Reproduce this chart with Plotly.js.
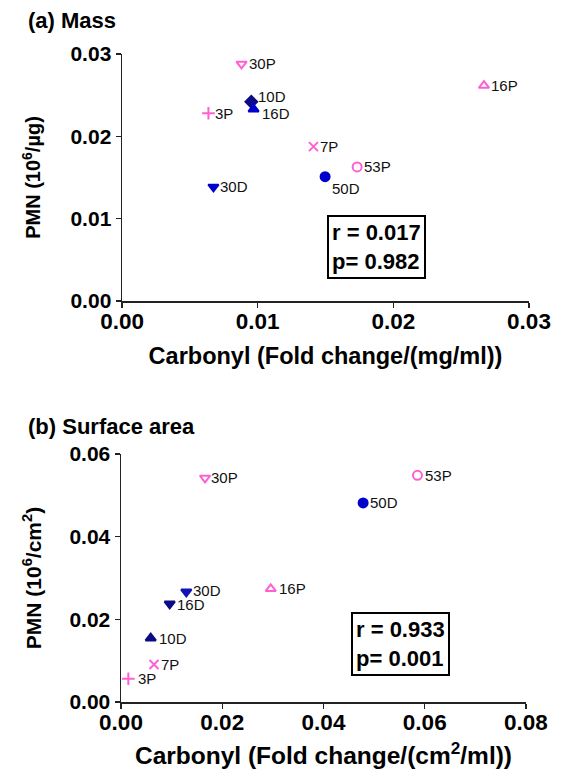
<!DOCTYPE html>
<html>
<head>
<meta charset="utf-8">
<script src="https://cdn.plot.ly/plotly-3.0.1.min.js"></script>
<style>
html,body{margin:0;padding:0;background:#fff;}
#chart{width:563px;height:776px;}
</style>
</head>
<body>
<div id="chart"></div>
<script>
// ---- data ----
const sampleLabels = ['3P', '7P', '16P', '30P', '53P', '10D', '16D', '30D', '50D'];
// (a) Mass
const massCarbonyl = [0.00637, 0.01411, 0.02668, 0.00881, 0.01733, 0.00953, 0.00970, 0.00674, 0.01497];
const massPMN      = [0.0228, 0.01875, 0.02616, 0.0288, 0.01628, 0.0242, 0.0233, 0.01385, 0.0151];
// (b) Surface area
const areaCarbonyl = [0.00145, 0.00652, 0.02958, 0.0166, 0.05856, 0.00587, 0.00962, 0.0129, 0.04783];
const areaPMN      = [0.00561, 0.00907, 0.02738, 0.0542, 0.05485, 0.01543, 0.02375, 0.02665, 0.04817];
const massTicks = [0, 0.01, 0.02, 0.03];
const areaXTicks = [0, 0.02, 0.04, 0.06, 0.08];
const areaYTicks = [0, 0.02, 0.04, 0.06];
const massStats = ['r = 0.017', 'p= 0.982'];
const areaStats = ['r = 0.933', 'p= 0.001'];

// ---- styles: [symbol, colour, label dx(px), label dy(px, down positive)] ----
const PINK = '#ff5fd4', BLUE = '#0000cc', NAVY = '#0b0b85';
const massStyle = {
  '3P': ['cross-thin', PINK, 5, 0],
  '7P': ['x-thin', PINK, 5, 0],
  '16P': ['triangle-up-open', PINK, 5, 0],
  '30P': ['triangle-down-open', PINK, 5, 0],
  '53P': ['circle-open', PINK, 5, 0],
  '10D': ['diamond', NAVY, 5, -5],
  '16D': ['triangle-up', BLUE, 6, 4],
  '30D': ['triangle-down', BLUE, 5, 0],
  '50D': ['circle', BLUE, 5, 12]
};
const areaStyle = {
  '3P': ['cross-thin', PINK, 8, 0],
  '7P': ['x-thin', PINK, 5, 0],
  '16P': ['triangle-up-open', PINK, 6, 0],
  '30P': ['triangle-down-open', PINK, 4, 0],
  '53P': ['circle-open', PINK, 6, 0],
  '10D': ['triangle-up', NAVY, 6, 0],
  '16D': ['triangle-down', NAVY, 5, 1],
  '30D': ['triangle-down', '#1414b4', 5, -1],
  '50D': ['circle', BLUE, 5, 0]
};

const FONT = 'Liberation Sans, Arial, sans-serif';

function makeTrace(xs, ys, style, xa, ya) {
  const sym = sampleLabels.map(l => style[l][0]);
  const col = sampleLabels.map(l => style[l][1]);
  return {
    type: 'scatter', mode: 'markers',
    x: xs, y: ys, text: sampleLabels,
    xaxis: xa, yaxis: ya,
    marker: {symbol: sym, color: col, size: 9, line: {color: col, width: 2}},
    cliponaxis: false, hoverinfo: 'skip', showlegend: false
  };
}

function makeLabels(xs, ys, style, xa, ya) {
  return sampleLabels.map((l, i) => ({
    text: l, xref: xa, yref: ya, x: xs[i], y: ys[i],
    xanchor: 'left', yanchor: 'middle', xshift: style[l][2], yshift: -style[l][3],
    showarrow: false, font: {family: FONT, size: 15, color: '#111'}
  }));
}

function axisBase(tsize) {
  return {
    showgrid: false, zeroline: false, showline: true, linecolor: '#222', linewidth: 1.5,
    ticks: 'outside', ticklen: 5, tickwidth: 1.5, tickcolor: '#222',
    tickfont: {family: FONT, size: tsize, color: '#000', weight: 'bold'},
    tickformat: '.2f', tickmode: 'array', fixedrange: true
  };
}
function tfont(size) { return {family: FONT, size: size, color: '#000', weight: 'bold'}; }

const layout = {
  width: 563, height: 776,
  margin: {l: 121, r: 34, t: 54, b: 74},
  paper_bgcolor: '#fff', plot_bgcolor: '#fff',
  showlegend: false,
  xaxis: Object.assign(axisBase(22.5), {
    domain: [0.0025, 1], range: [0, 0.03], tickvals: massTicks, anchor: 'y', ticklabelstandoff: -6,
    title: {text: 'Carbonyl (Fold change/(mg/ml))', font: tfont(23.5), standoff: 15}
  }),
  yaxis: Object.assign(axisBase(21), {
    domain: [0.6188, 1], range: [0, 0.03], tickvals: massTicks, anchor: 'x',
    title: {text: 'PMN (10<sup>6</sup>/µg)', font: tfont(20), standoff: 24}
  }),
  xaxis2: Object.assign(axisBase(22.5), {
    domain: [0, 0.9926], range: [0, 0.08], tickvals: areaXTicks, anchor: 'y2', ticklabelstandoff: -6,
    title: {text: 'Carbonyl (Fold change/(cm<sup>2</sup>/ml))', font: tfont(24.5), standoff: 13}
  }),
  yaxis2: Object.assign(axisBase(21), {
    domain: [0, 0.3827], range: [0, 0.06], tickvals: areaYTicks, anchor: 'x2',
    title: {text: 'PMN (10<sup>6</sup>/cm<sup>2</sup>)', font: tfont(21), standoff: 22}
  }),
  annotations: [
    {text: '(a) Mass', xref: 'paper', yref: 'paper', x: -0.232, y: 1.052, xanchor: 'left', yanchor: 'middle',
     showarrow: false, font: tfont(22)},
    {text: '(b) Surface area', xref: 'paper', yref: 'paper', x: -0.232, y: 0.4259, xanchor: 'left', yanchor: 'middle',
     showarrow: false, font: tfont(22)},
    {text: massStats.join('<br>'), xref: 'x', yref: 'y', x: 0.01876, y: 0.00657, xanchor: 'center', yanchor: 'middle',
     showarrow: false, align: 'left', bordercolor: '#000', borderwidth: 2, borderpad: 3, bgcolor: '#fff',
     font: tfont(22)},
    {text: areaStats.join('<br>'), xref: 'x2', yref: 'y2', x: 0.05528, y: 0.01398, xanchor: 'center', yanchor: 'middle',
     showarrow: false, align: 'left', bordercolor: '#000', borderwidth: 2, borderpad: 3, bgcolor: '#fff',
     font: tfont(22)}
  ].concat(
    makeLabels(massCarbonyl, massPMN, massStyle, 'x', 'y'),
    makeLabels(areaCarbonyl, areaPMN, areaStyle, 'x2', 'y2')
  )
};

const data = [
  makeTrace(massCarbonyl, massPMN, massStyle, 'x', 'y'),
  makeTrace(areaCarbonyl, areaPMN, areaStyle, 'x2', 'y2')
];

Plotly.newPlot('chart', data, layout, {staticPlot: true, displayModeBar: false});
</script>
</body>
</html>
